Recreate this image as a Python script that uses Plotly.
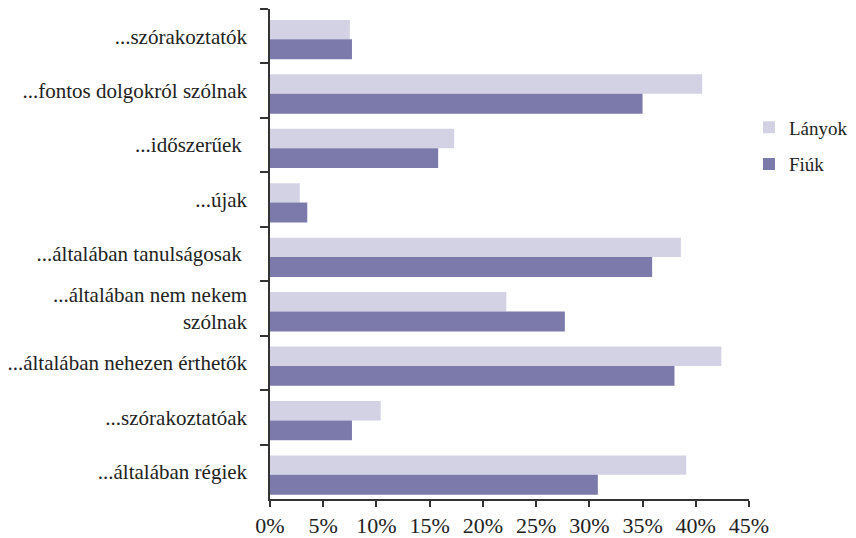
import plotly.graph_objects as go

categories = [
    "...szórakoztatók",
    "...fontos dolgokról szólnak",
    "...időszerűek ",
    "...újak",
    "...általában tanulságosak ",
    "...általában nem nekem<br>szólnak",
    "...általában nehezen érthetők",
    "...szórakoztatóak",
    "...általában régiek",
]
lanyok = [7.5, 40.6, 17.3, 2.8, 38.6, 22.2, 42.4, 10.4, 39.1]
fiuk = [7.7, 35.0, 15.8, 3.5, 35.9, 27.7, 38.0, 7.7, 30.8]
x_ticks = [0, 5, 10, 15, 20, 25, 30, 35, 40, 45]

font_family = "Liberation Serif, serif"

fig = go.Figure()
fig.add_trace(go.Bar(y=categories, x=lanyok, name="Lányok", orientation="h",
                     offset=-0.30, width=0.356, legendgroup="a",
                     marker=dict(color="#D3D2E5", line=dict(width=0))))
fig.add_trace(go.Bar(y=categories, x=fiuk, name="Fiúk", orientation="h",
                     offset=0.056, width=0.366, legendgroup="b",
                     marker=dict(color="#7B7AAB", line=dict(width=0))))

fig.update_layout(
    width=848, height=530,
    margin=dict(l=262, r=106.7, t=1, b=38.7, autoexpand=False),
    paper_bgcolor="white", plot_bgcolor="white",
    barmode="overlay",
    font=dict(family=font_family, size=20, color="#222222"),
    showlegend=True,
    legend=dict(x=1.0, y=0.797, xanchor="left", yanchor="top",
                traceorder="grouped", tracegroupgap=9,
                font=dict(family=font_family, size=19), itemwidth=30),
)
fig.update_xaxes(range=[0, 45], tickvals=x_ticks, ticktext=[f"{v}%" for v in x_ticks],
                 showline=True, linecolor="#333333", linewidth=1.5, automargin=False,
                 ticks="outside", ticklen=6, tickcolor="#333333", tickwidth=1.5,
                 showgrid=False, zeroline=False, tickfont=dict(family=font_family, size=22))
fig.update_yaxes(autorange="reversed", showline=True, linecolor="#333333", linewidth=1.5,
                 ticks="outside", ticklen=8, tickcolor="#333333", tickwidth=1.5, automargin=False,
                 tickson="boundaries", showgrid=False, ticklabelstandoff=17,
                 tickfont=dict(family=font_family, size=21))

fig.write_html("out.html")
